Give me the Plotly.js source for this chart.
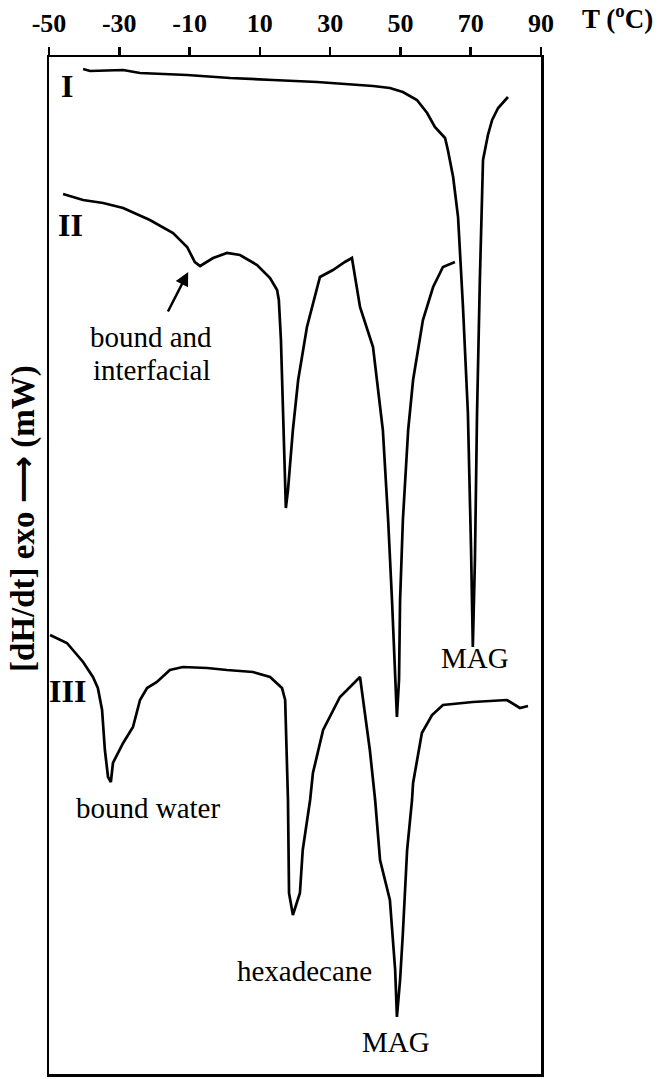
<!DOCTYPE html>
<html>
<head>
<meta charset="utf-8">
<script src="https://cdn.plot.ly/plotly-3.0.1.min.js"></script>
<style>html,body{margin:0;padding:0;background:#fff;}#chart{width:661px;height:1079px;}</style>
</head>
<body>
<div id="chart"></div>
<script>
// Temperature (°C) and signal (arbitrary units, stacked curves)
var tempI = [-40.3,-38.3,-28.9,-24.1,-10.7,1.5,13.7,26.3,42.2,47.0,50.7,54.7,57.6,59.8,62.7,63.5,65.0,66.4,67.8,69.2,70.1,70.6,71.2,71.8,72.6,73.5,74.9,76.1,77.8,80.6];
var heatI = [1005,1003,1004,1001,999,996,994,992,988,986,982,974,961,947,936,924,897,857,767,661,524,427,514,661,794,914,939,954,966,977];

var tempII = [-46.0,-40.3,-34.6,-28.9,-21.3,-14.7,-10.7,-8.5,-7.0,-5.3,-3.3,0.65,4.35,9.2,12.9,14.9,15.4,16.0,16.3,16.9,17.2,17.4,18.0,18.6,19.4,20.9,23.4,27.1,30.8,34.2,36.2,38.5,42.2,45.0,46.5,47.6,48.7,49.0,49.6,49.9,50.7,52.2,53.6,56.4,59.3,62.1,65.5];
var heatII = [880,874,871,866,854,841,827,812,808,812,816,821,819,809,796,784,774,734,694,624,584,566,584,614,644,694,747,797,804,812,816,767,727,644,554,474,374,357,394,474,554,644,694,754,787,807,812];

var tempIII = [-49.7,-44.9,-40.3,-37.5,-36.1,-34.9,-34.1,-33.2,-32.4,-31.8,-28.9,-26.1,-24.1,-22.1,-19.3,-15.6,-11.9,-5.0,0.65,8.05,12.9,16.3,17.2,17.7,18.0,18.3,19.4,21.4,22.2,24.3,25.1,28.0,32.8,38.5,40.2,41.3,42.8,44.2,47.0,48.5,49.0,49.9,50.7,51.9,53.3,53.6,56.1,59.0,62.1,70.6,80.3,84.0,86.3];
var heatIII = [439,431,412,397,386,364,324,297,292,311,331,347,374,386,392,404,407,406,404,402,397,386,374,324,274,181,159,181,224,274,301,344,377,397,354,324,274,214,174,104,57,94,141,224,274,291,341,359,369,372,374,366,368];

var tickVals = [-50,-30,-10,10,30,50,70,90];
var tickText = ['-50','-30','-10','10','30','50','70','90'];

var serif = '"Liberation Serif", "Times New Roman", serif';
var lineStyle = {color:'#000', width:2.7};

var traces = [
  {x: tempI, y: heatI, name: 'I', mode: 'lines', line: lineStyle},
  {x: tempII, y: heatII, name: 'II', mode: 'lines', line: lineStyle},
  {x: tempIII, y: heatIII, name: 'III', mode: 'lines', line: lineStyle}
];

function txt(text, x, y, size, bold) {
  return {text: bold ? '<b>' + text + '</b>' : text, x: x, y: y, xref: 'x', yref: 'y',
    showarrow: false, xanchor: 'center', yanchor: 'middle',
    font: {family: serif, size: size, color: '#000'}};
}

var annotations = [
  txt('I', -44.9, 988, 32, true),
  txt('II', -44.0, 849, 32, true),
  txt('III', -44.6, 383, 32, true),
  txt('bound and', -21.0, 737, 29, false),
  txt('interfacial', -20.7, 704, 29, false),
  txt('bound water', -21.8, 266, 29, false),
  txt('hexadecane', 22.6, 103, 29, false),
  txt('MAG', 48.7, 32, 29, false),
  txt('MAG', 71.2, 416, 29, false),
  {text: '', x: -10.4, y: 802, xref: 'x', yref: 'y', ax: -21, ay: 41,
   showarrow: true, arrowhead: 2, arrowsize: 1.1, arrowwidth: 2.5, arrowcolor: '#000'},
  {text: '<b>T (<sup>o</sup>C)</b>', x: 1.1565, y: 1.0393, xref: 'paper', yref: 'paper',
   showarrow: false, xanchor: 'center', yanchor: 'middle',
   font: {family: serif, size: 27, color: '#000'}},
  {text: '<b>[dH/dt] exo <span style="font-family:\'DejaVu Sans\'">\u27F6</span> (mW)</b>', x: -0.055, y: 0.5467, xref: 'paper', yref: 'paper',
   textangle: -90, showarrow: false, xanchor: 'center', yanchor: 'middle',
   font: {family: serif, size: 33, color: '#000'}}
];

var layout = {
  width: 661, height: 1079,
  margin: {l: 49, r: 120, t: 57, b: 5, pad: 0},
  paper_bgcolor: '#fff', plot_bgcolor: '#fff',
  showlegend: false,
  xaxis: {
    range: [-50, 90], side: 'top', tickvals: tickVals, ticktext: tickText,
    ticks: 'outside', ticklen: 8, tickwidth: 2.5, tickcolor: '#000',
    showline: true, linewidth: 2.5, linecolor: '#000', mirror: true,
    showgrid: false, zeroline: false, ticklabelstandoff: 4,
    tickfont: {family: serif, size: 26, color: '#000', weight: 'bold'}
  },
  yaxis: {
    range: [0, 1017], showticklabels: false, ticks: '',
    showline: true, linewidth: 2.5, linecolor: '#000', mirror: true,
    showgrid: false, zeroline: false
  },
  annotations: annotations
};

Plotly.newPlot('chart', traces, layout, {staticPlot: true, displayModeBar: false});
</script>
</body>
</html>
